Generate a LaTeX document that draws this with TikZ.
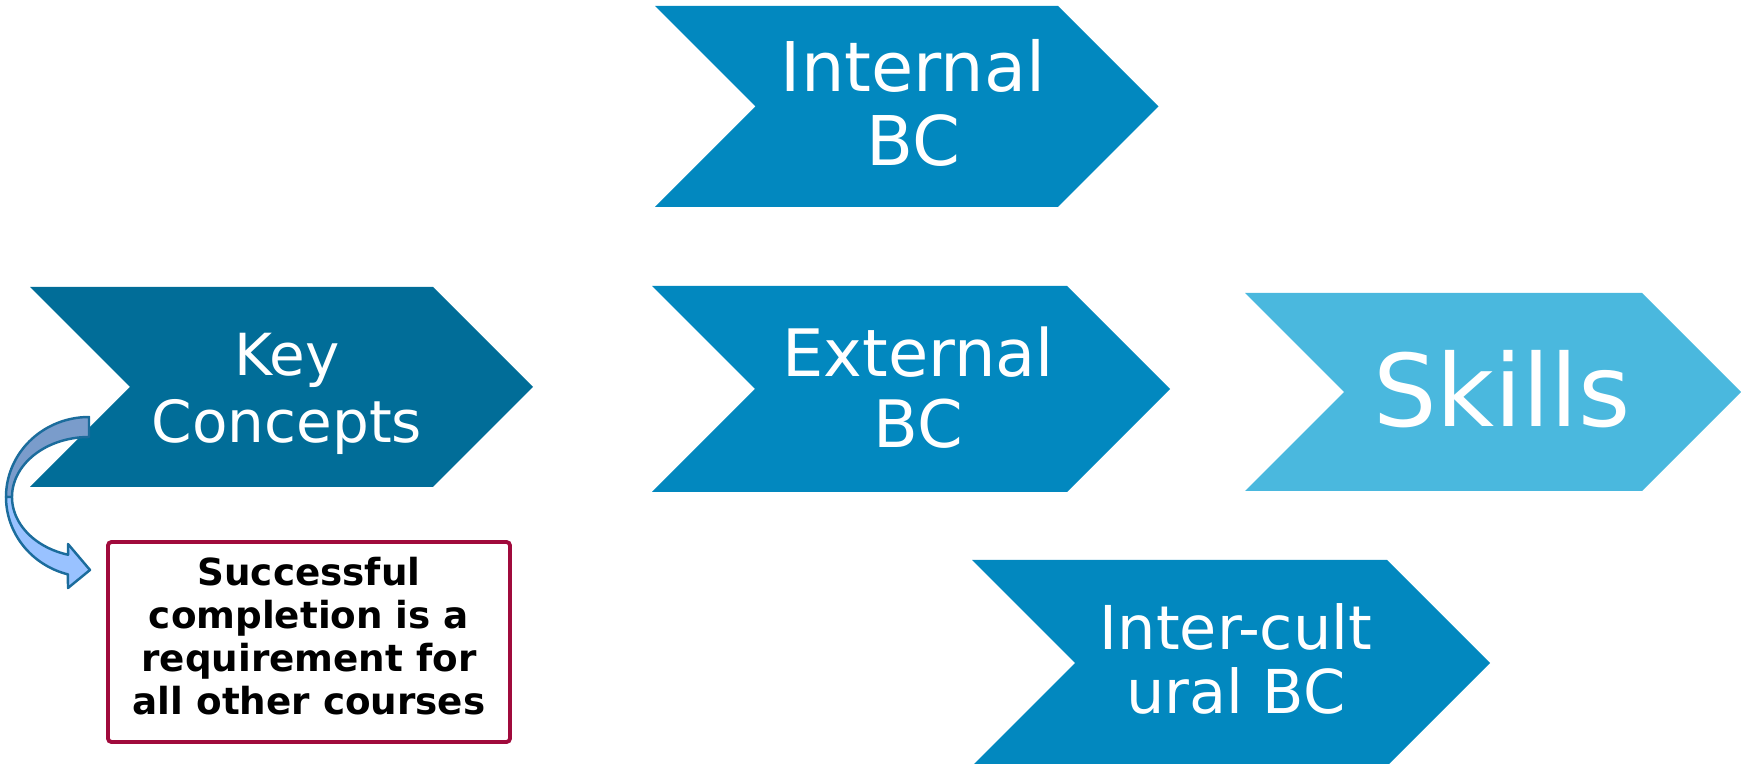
\documentclass[tikz,border=0pt]{standalone}
\usepackage{fontspec}
\setmainfont{DejaVu Sans}

\definecolor{keyblue}{HTML}{016D98}
\definecolor{midblue}{HTML}{0288BF}
\definecolor{skillblue}{HTML}{4AB8DE}
\definecolor{boxred}{HTML}{A00A3C}
\definecolor{arrowdark}{HTML}{7A9CCB}
\definecolor{arrowlight}{HTML}{99C2FF}
\definecolor{arrowline}{HTML}{1B6C9C}

% chevron: fill colour, left x, top y, right (shoulder) x, bottom y
\newcommand\chevronshape[5]{%
  \fill[#1] (#2,#3) -- (#4,#3) -- ({#4+(#5-#3)/2},{(#3+#5)/2}) -- (#4,#5)
    -- (#2,#5) -- ({#2+(#5-#3)/2},{(#3+#5)/2}) -- cycle;}

\begin{document}
\begin{tikzpicture}[x=0.01cm,y=-0.01cm,
  chevtext/.style={text=white, align=center, inner sep=0pt},
  notetext/.style={text=black, align=center, inner sep=0pt,
    font=\bfseries\fontsize{10.6}{12.3}\selectfont},
  bandline/.style={draw=arrowline, line width=0.7pt, line join=round},
]
\useasboundingbox (0,0) rectangle (1741,764);

% chevrons
\chevronshape{keyblue}{30}{287}{433}{487}
\chevronshape{midblue}{655}{6}{1058}{207}
\chevronshape{midblue}{652}{286}{1067}{492}
\chevronshape{skillblue}{1245}{293}{1642}{491}
\chevronshape{midblue}{972}{560}{1387}{766}

% chevron labels
\node[chevtext, font=\fontsize{16.5}{19}\selectfont] (key) at (287,393.5) {Key\\Concepts};
\node[chevtext, font=\fontsize{19.5}{20.8}\selectfont] (internal) at (913,103) {Internal\\BC};
\node[chevtext, font=\fontsize{18.6}{20.2}\selectfont] (external) at (918,387.5) {External\\BC};
\node[chevtext, font=\fontsize{17.2}{18.3}\selectfont] (intercult) at (1236,659) {Inter-cult\\ural BC};
\node[chevtext, font=\fontsize{28.5}{34}\selectfont, anchor=base] (skills) at (1502,427) {Skills};

% note box
\draw[boxred, line width=1.1pt, rounded corners=1pt] (108,542) rectangle (510,742);
\node[notetext] (note) at (309,636)
  {Successful\\completion is a\\requirement for\\all other courses};

% curved block arrow: back band, then front band with head
\filldraw[bandline, fill=arrowdark]
  plot[domain=90:180, samples=40] ({89+83*cos(\x)},{497-80*sin(\x)})
  -- plot[domain=180:90, samples=40] ({89+77*cos(\x)},{497-60*sin(\x)})
  -- cycle;
\filldraw[bandline, fill=arrowlight]
  plot[domain=180:255.3, samples=40] ({89+83*cos(\x)},{497-80*sin(\x)})
  -- (68,588) -- (90,570) -- (68,544)
  -- plot[domain=254.2:180, samples=40] ({89+77*cos(\x)},{497-60*sin(\x)})
  -- cycle;
\end{tikzpicture}
\end{document}
